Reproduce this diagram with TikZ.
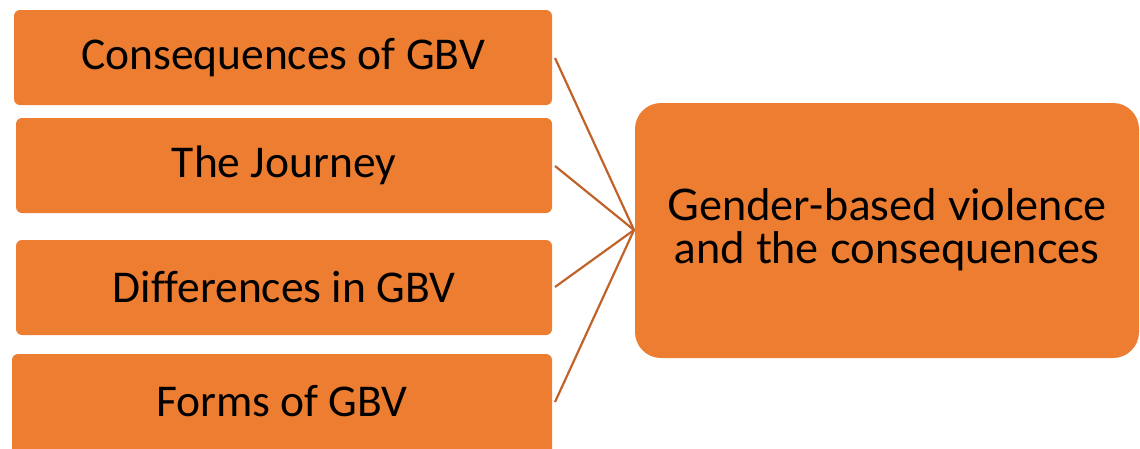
\documentclass[tikz,border=0pt]{standalone}
\usepackage{fontspec}
\newfontfamily\leftfont[Ligatures=NoCommon]{Carlito}
\newfontfamily\rightfont{Lato}
\definecolor{boxorange}{HTML}{ED7D31}
\definecolor{linkbrown}{HTML}{C0622A}
\begin{document}
\begin{tikzpicture}[x=1pt,y=-1pt,
  item/.style={fill=boxorange,rounded corners=6pt,draw=none},
  itemtext/.style={font=\leftfont\fontsize{45.5}{48}\selectfont,text=black},
  hub/.style={fill=boxorange,rounded corners=26pt,draw=none},
  hubtext/.style={font=\rightfont\fontsize{43.5}{43}\selectfont,text=black,align=center},
  link/.style={draw=linkbrown,line width=2.2pt}]
\useasboundingbox (0,0) rectangle (1140,448);
\clip (0,0) rectangle (1140,448);
% left boxes
\path[item] (14,10) rectangle (552,105);
\node[itemtext] (t1) at (283,57.5) {Consequences of GBV};
\path[item] (16,118) rectangle (552,213);
\node[itemtext] (t2) at (284,165.5) {The Journey};
\path[item] (16,240) rectangle (552,335);
\node[itemtext] (t3) at (284,287.5) {Differences in GBV};
\path[item] (12,354) rectangle (552,470);
\node[itemtext] (t4) at (282,401) {Forms of GBV};
% right box
\path[hub] (635,103) rectangle (1139,358);
\node[hubtext] (hub) at (887,230) {Gender-based violence\\and the consequences};
% connector anchors
\coordinate (a1) at (555,58);
\coordinate (a2) at (555,166);
\coordinate (a3) at (555,287);
\coordinate (a4) at (555,402);
\coordinate (h) at (634,230);
\draw[link] (a1) -- (h);
\draw[link] (a2) -- (h);
\draw[link] (a3) -- (h);
\draw[link] (a4) -- (h);
\end{tikzpicture}
\end{document}
